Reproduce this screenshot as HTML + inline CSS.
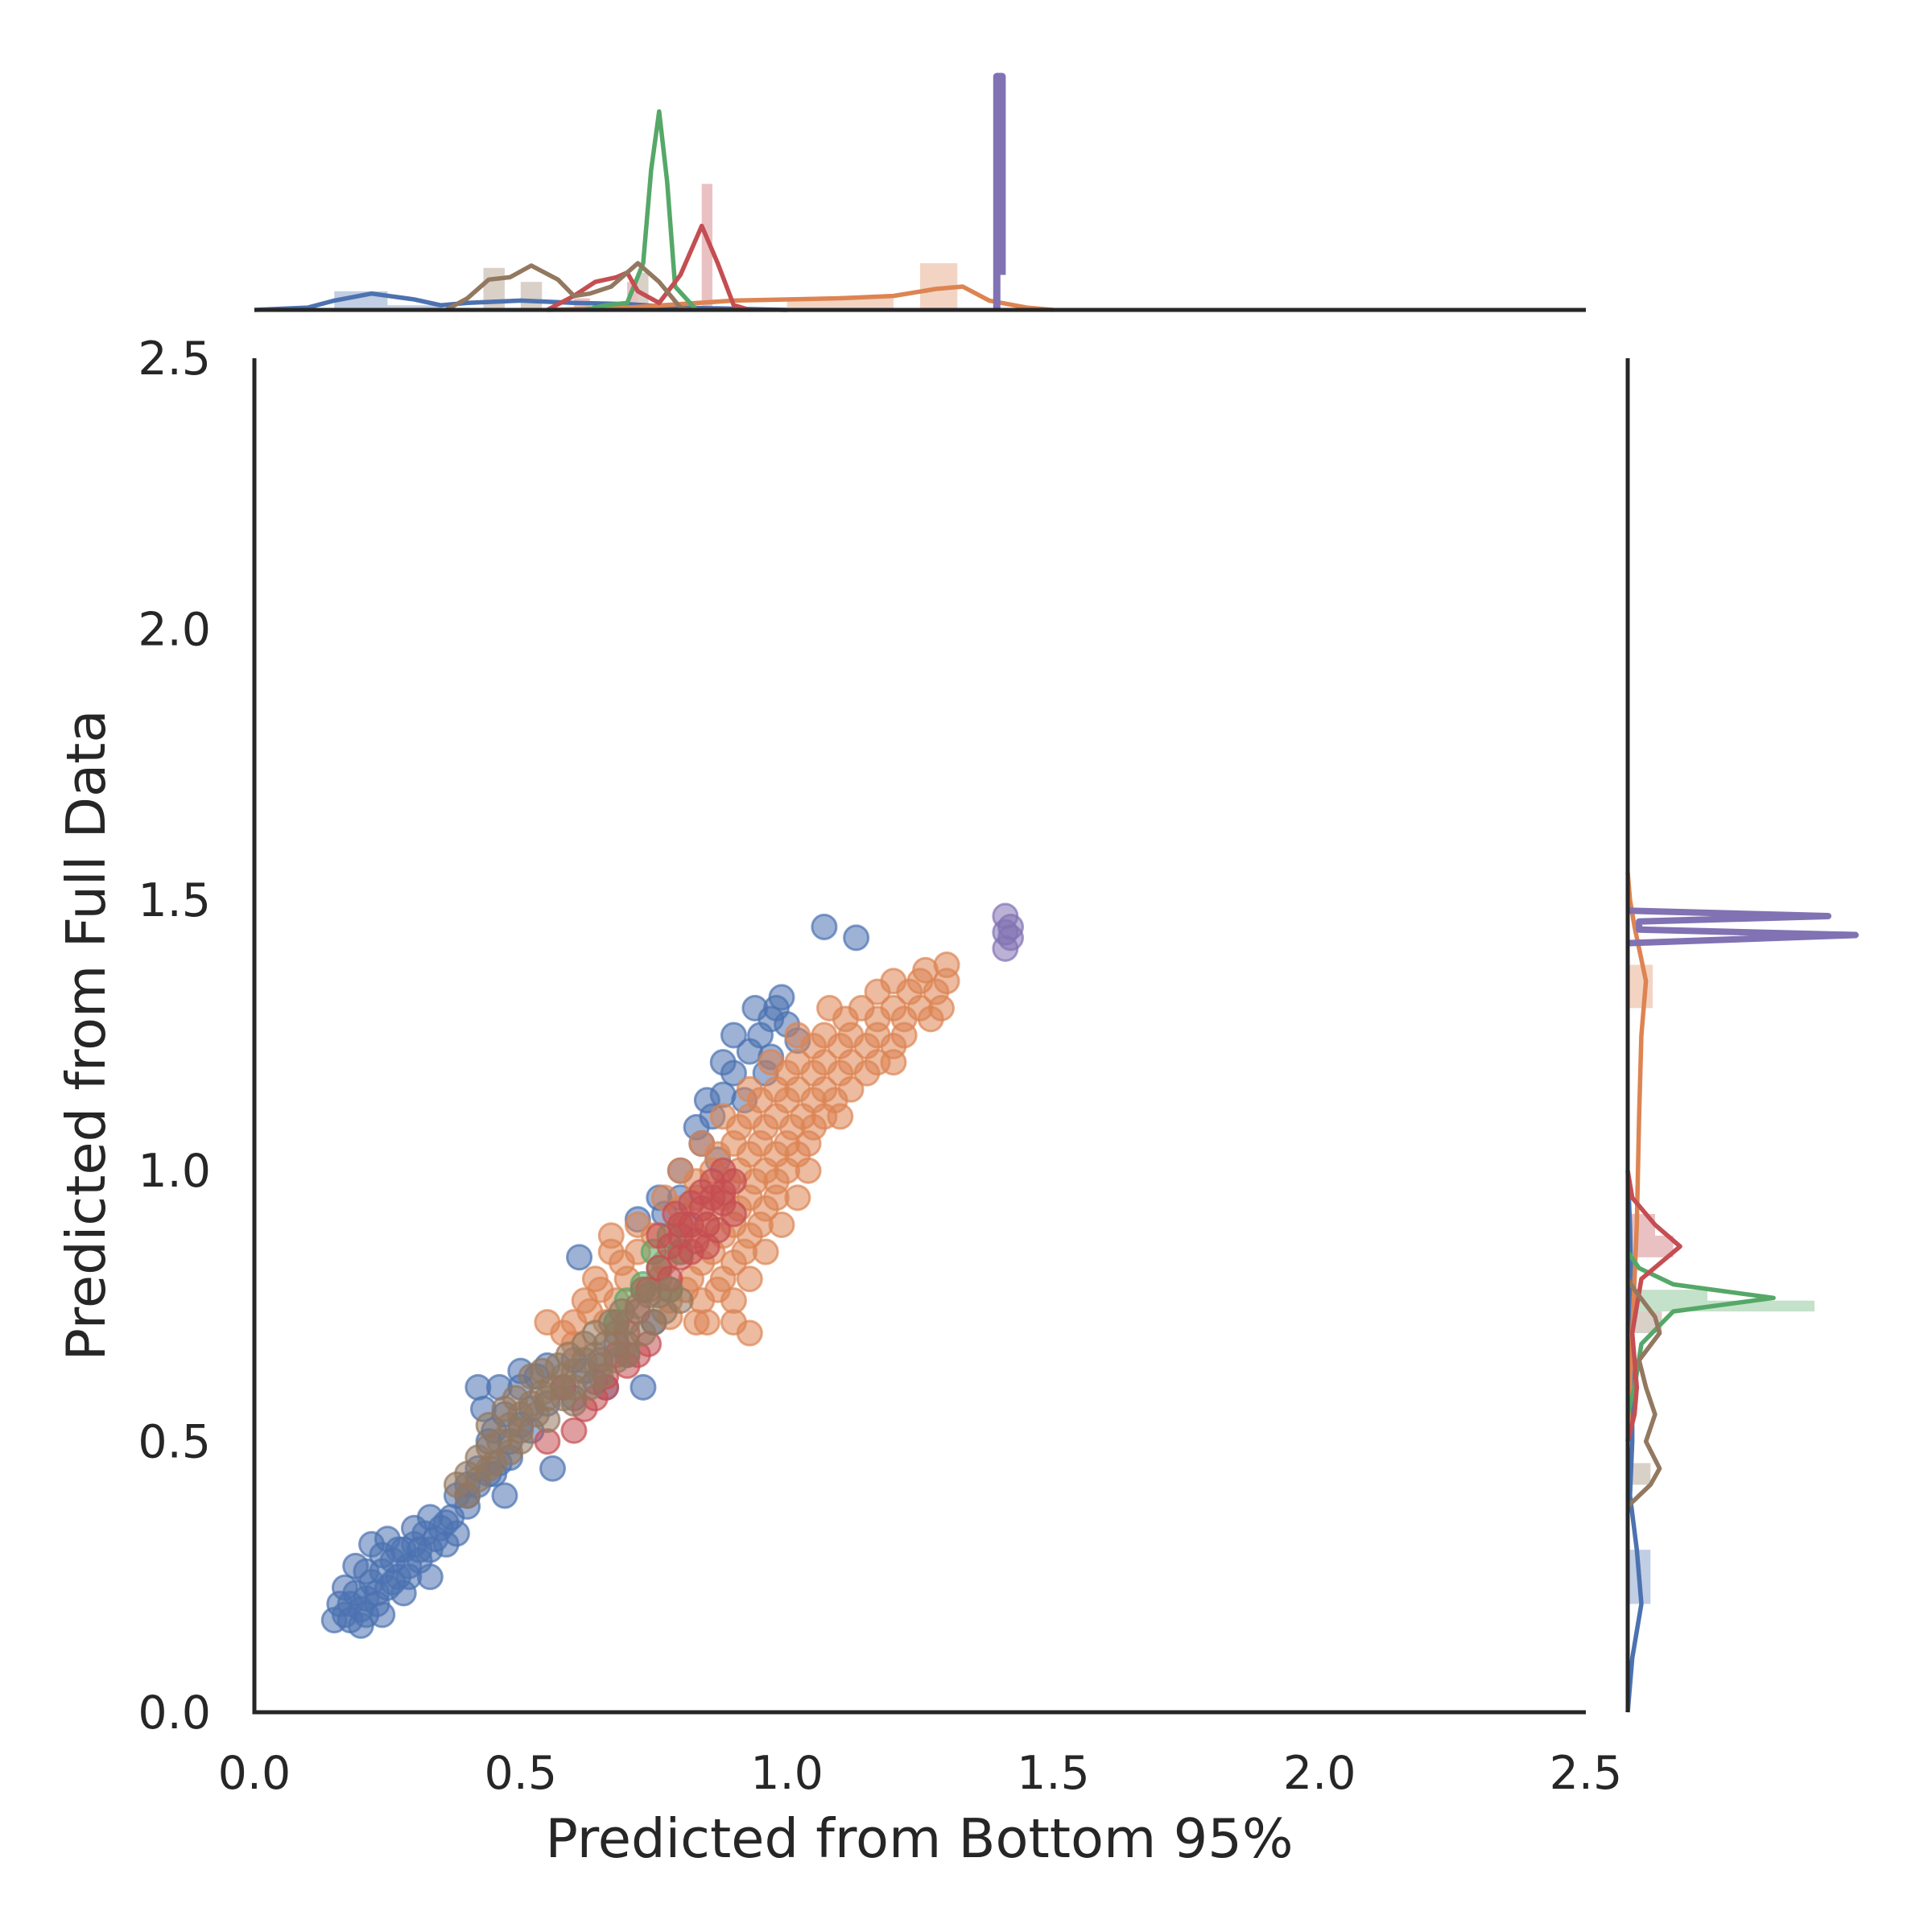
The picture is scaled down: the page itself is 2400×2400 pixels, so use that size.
<!DOCTYPE html>
<html><head><meta charset="utf-8"><style>
html,body{margin:0;padding:0;background:#fff;}
svg{display:block;font-family:"DejaVu Sans","Liberation Sans",sans-serif;}
</style></head><body>
<svg id="chart" width="2400" height="2400" viewBox="0 0 2400 2400" xmlns="http://www.w3.org/2000/svg">
<g id="hist"></g>
<g id="pts"></g>
<g id="kde"></g>
<g id="axes"></g>
</svg>
<script>
const colors = {blue:"#4c72b0",orange:"#dd8452",green:"#55a868",red:"#c44e52",purple:"#8172b3",brown:"#937860"};
const seriesOrder = ["blue","orange","green","red","purple","brown"];
const xTicks = [0.0,0.5,1.0,1.5,2.0,2.5];
const yTicks = [0.0,0.5,1.0,1.5,2.0,2.5];
const xTickLabels = ["0.0","0.5","1.0","1.5","2.0","2.5"];
const yTickLabels = ["0.0","0.5","1.0","1.5","2.0","2.5"];

const bluePts = [[0.15,0.17],[0.17,0.18],[0.18,0.2],[0.19,0.22],[0.2,0.19],[0.21,0.21],[0.22,0.24],[0.23,0.2],[0.24,0.26],[0.25,0.23],[0.26,0.28],[0.27,0.25],[0.28,0.3],[0.29,0.27],[0.3,0.31],[0.31,0.28],[0.32,0.33],[0.33,0.3],[0.35,0.34],[0.36,0.31],[0.37,0.36],[0.38,0.33],[0.19,0.27],[0.22,0.31],[0.25,0.32],[0.17,0.23],[0.2,0.16],[0.24,0.18],[0.28,0.22],[0.33,0.25],
[0.16,0.2],[0.18,0.17],[0.21,0.18],[0.23,0.22],[0.26,0.24],[0.29,0.25],[0.31,0.3],[0.34,0.32],[0.27,0.3],[0.24,0.29],[0.21,0.26],[0.3,0.34],[0.33,0.36],[0.36,0.35],[0.4,0.4],[0.42,0.42],[0.44,0.44],[0.46,0.46],[0.48,0.5],[0.5,0.53],[0.52,0.56],[0.45,0.52],[0.43,0.56],[0.42,0.6],[0.46,0.6],[0.5,0.63],[0.55,0.64],[0.6,0.65],[0.64,0.61],[0.66,0.6],
[0.38,0.4],[0.4,0.42],[0.42,0.45],[0.44,0.5],[0.45,0.44],[0.47,0.55],[0.48,0.47],[0.5,0.6],[0.52,0.52],[0.53,0.62],[0.55,0.57],[0.56,0.45],[0.58,0.6],[0.6,0.58],[0.62,0.63],[0.65,0.65],[0.68,0.68],[0.7,0.66],[0.73,0.6],[0.75,0.72],[0.4,0.38],[0.47,0.4],
[0.61,0.84],[0.72,0.91],[0.76,0.95],[0.8,1.0],[0.84,1.05],[0.86,1.1],[0.88,1.14],[0.9,1.18],[0.93,1.22],[0.95,1.25],[0.97,1.28],[0.99,1.32],[1.0,1.27],[1.02,1.24],[0.92,1.13],[0.87,1.02],[1.07,1.45],[1.13,1.43],[0.97,1.21],[0.81,0.9],[0.68,0.72],
[0.88,1.2],[0.9,1.25],[0.94,1.3],[0.98,1.3],[0.96,1.18],[0.85,1.13],[0.83,1.08],[0.8,0.95],[0.77,0.92]];
const orangePts = [[0.6,0.72],[0.66,0.72],[0.85,0.72],[0.9,0.72],
[0.62,0.76],[0.68,0.76],[0.78,0.76],[0.84,0.76],[0.9,0.76],
[0.64,0.8],[0.7,0.8],[0.76,0.8],[0.82,0.8],[0.88,0.8],[0.93,0.8],
[0.67,0.85],[0.72,0.85],[0.8,0.85],[0.86,0.85],[0.92,0.85],[0.96,0.85],
[0.72,0.9],[0.8,0.9],[0.85,0.9],[0.9,0.9],[0.95,0.9],[0.99,0.9],
[0.77,0.95],[0.83,0.95],[0.88,0.95],[0.93,0.95],[0.98,0.95],[1.02,0.95],
[0.8,1.0],[0.86,1.0],[0.91,1.0],[0.96,1.0],[1.0,1.0],[1.04,1.0],
[0.84,1.05],[0.9,1.05],[0.95,1.05],[1.0,1.05],[1.04,1.05],
[0.88,1.1],[0.93,1.1],[0.98,1.1],[1.03,1.1],[1.07,1.1],[1.1,1.1],
[0.93,1.15],[0.98,1.15],[1.02,1.15],[1.07,1.15],[1.12,1.15],
[0.97,1.2],[1.02,1.2],[1.07,1.2],[1.12,1.2],[1.17,1.2],[1.2,1.2],
[1.02,1.25],[1.07,1.25],[1.12,1.25],[1.17,1.25],[1.22,1.25],
[1.08,1.3],[1.14,1.3],[1.2,1.3],[1.25,1.3],[1.29,1.3],
[1.2,1.35],[1.25,1.35],[1.3,1.35],[1.3,1.38],[1.26,1.37],
[0.65,0.78],[0.73,0.78],[0.81,0.78],[0.87,0.78],
[0.69,0.83],[0.77,0.83],[0.84,0.83],[0.9,0.83],
[0.75,0.88],[0.83,0.88],[0.88,0.88],[0.93,0.88],
[0.8,0.93],[0.86,0.93],[0.91,0.93],[0.96,0.93],
[0.83,0.98],[0.89,0.98],[0.94,0.98],[0.98,0.98],
[0.87,1.03],[0.93,1.03],[0.98,1.03],[1.02,1.03],
[0.91,1.08],[0.96,1.08],[1.01,1.08],[1.05,1.08],
[0.95,1.13],[1.0,1.13],[1.05,1.13],[1.09,1.13],
[1.0,1.18],[1.05,1.18],[1.1,1.18],[1.15,1.18],
[1.05,1.23],[1.1,1.23],[1.15,1.23],[1.2,1.23],
[1.11,1.28],[1.17,1.28],[1.22,1.28],[1.27,1.28],
[1.17,1.33],[1.23,1.33],[1.28,1.33],
[0.93,0.7],[0.83,0.72],[0.55,0.72],[0.6,0.68],[0.67,0.88],[0.78,0.73],[0.63,0.74],[0.58,0.7]];
const greenPts = [[0.7,0.76],[0.73,0.79],[0.76,0.82],[0.78,0.78],[0.68,0.72],[0.75,0.85],[0.8,0.85],[0.78,0.88]];
const redPts = [[0.62,0.56],[0.64,0.58],[0.66,0.62],[0.68,0.66],[0.7,0.7],[0.72,0.74],[0.74,0.78],[0.76,0.82],[0.78,0.86],[0.8,0.88],[0.82,0.9],[0.84,0.93],[0.86,0.95],[0.88,0.96],[0.8,0.84],[0.83,0.87],[0.78,0.8],[0.85,0.9],[0.9,0.98],[0.76,0.88],[0.6,0.52],[0.55,0.5],[0.58,0.6],[0.87,0.89],
[0.8,0.9],[0.82,0.94],[0.84,0.96],[0.86,0.98],[0.88,0.94],[0.9,0.92],[0.82,0.85],[0.85,0.86],[0.79,0.92],[0.88,1.0],[0.66,0.6],[0.7,0.64],[0.74,0.68],[0.72,0.66]];
const purplePts = [[1.41,1.44],[1.41,1.47],[1.42,1.45],[1.41,1.41],[1.42,1.43]];
const brownPts = [[0.38,0.42],[0.4,0.44],[0.42,0.47],[0.44,0.49],[0.46,0.5],[0.48,0.53],[0.5,0.55],[0.52,0.57],[0.54,0.59],[0.56,0.6],[0.58,0.62],[0.6,0.63],[0.62,0.65],[0.64,0.66],[0.66,0.68],[0.68,0.7],[0.7,0.72],[0.72,0.75],[0.74,0.77],[0.76,0.77],[0.45,0.46],[0.5,0.5],[0.55,0.54],[0.6,0.57],[0.65,0.62],[0.7,0.66],[0.52,0.62],[0.57,0.64],[0.47,0.56],[0.42,0.43],[0.62,0.68],[0.67,0.72],
[0.4,0.4],[0.44,0.45],[0.48,0.48],[0.5,0.52],[0.53,0.55],[0.55,0.58],[0.58,0.58],[0.6,0.6],[0.63,0.6],[0.65,0.64],[0.68,0.65],[0.7,0.68],[0.73,0.7],[0.75,0.72],[0.77,0.74],[0.78,0.78],[0.8,0.76],[0.44,0.53],[0.49,0.58],[0.54,0.63],[0.59,0.66],[0.64,0.7],[0.69,0.74],[0.73,0.78]];

const blueTopKde = [[0,0],[0.1,0.01],[0.15,0.04],[0.22,0.07],[0.3,0.045],[0.35,0.02],[0.4,0.03],[0.5,0.04],[0.6,0.03],[0.7,0.025],[0.8,0.01],[0.9,0.005],[1.0,0]];
const orangeTopKde = [[0.55,0],[0.7,0.01],[0.9,0.04],[1.0,0.045],[1.1,0.05],[1.2,0.06],[1.28,0.09],[1.33,0.1],[1.38,0.04],[1.45,0.01],[1.5,0]];
const greenTopKde = [[0.62,0],[0.66,0.02],[0.7,0.03],[0.73,0.2],[0.745,0.6],[0.76,0.85],[0.775,0.55],[0.79,0.1],[0.83,0]];
const redTopKde = [[0.55,0],[0.6,0.06],[0.64,0.12],[0.68,0.14],[0.7,0.16],[0.72,0.08],[0.76,0.03],[0.8,0.15],[0.84,0.36],[0.87,0.2],[0.9,0.02],[0.93,0]];
const purpleTopKde = [[1.394,0],[1.394,1.0],[1.404,1.0],[1.404,0.15]];
const brownTopKde = [[0.36,0],[0.4,0.05],[0.44,0.13],[0.48,0.14],[0.52,0.19],[0.57,0.13],[0.6,0.06],[0.63,0.07],[0.67,0.1],[0.72,0.2],[0.76,0.12],[0.8,0.01],[0.82,0]];

const blueRightKde = [[0,0],[0.1,0.02],[0.2,0.06],[0.3,0.04],[0.4,0.01],[0.5,0.02],[0.7,0.02],[0.9,0.01],[1.0,0]];
const orangeRightKde = [[0.5,0],[0.7,0.02],[0.9,0.04],[1.1,0.05],[1.25,0.06],[1.35,0.08],[1.45,0.03],[1.5,0.01],[1.55,0]];
const greenRightKde = [[0.55,0],[0.6,0.03],[0.68,0.06],[0.74,0.2],[0.765,0.64],[0.79,0.2],[0.82,0.05],[0.85,0]];
const redRightKde = [[0.5,0],[0.55,0.03],[0.6,0.04],[0.7,0.02],[0.8,0.06],[0.86,0.23],[0.9,0.12],[0.95,0.02],[1.0,0]];
const purpleRightKde = [[1.42,0],[1.435,1.0],[1.445,0.05],[1.46,0.05],[1.47,0.88],[1.48,0]];
const brownRightKde = [[0.38,0],[0.42,0.1],[0.45,0.14],[0.5,0.08],[0.55,0.12],[0.6,0.08],[0.65,0.05],[0.7,0.14],[0.73,0.12],[0.78,0.03],[0.8,0]];

const topHistBlue = [[0.15,0.25,0.08],[0.25,0.35,0.02]];
const topHistOrange = [[1.0,1.1,0.04],[1.1,1.2,0.06],[1.25,1.32,0.2]];
const topHistRed = [[0.6,0.63,0.05],[0.7,0.72,0.12],[0.84,0.86,0.54]];
const topHistBrown = [[0.43,0.47,0.18],[0.5,0.54,0.12],[0.72,0.74,0.16]];
const rightHistBlue = [[0.2,0.3,0.1]];
const rightHistOrange = [[1.3,1.38,0.11]];
const rightHistRed = [[0.84,0.88,0.2],[0.88,0.92,0.12]];
const rightHistGreen = [[0.74,0.76,0.82],[0.76,0.78,0.35]];
const rightHistBrown = [[0.42,0.46,0.1],[0.7,0.74,0.15]];

const NS="http://www.w3.org/2000/svg";
const X0=316,X1=1970,Y0=2127,Y1=445;
const sx=v=>X0+v*(X1-X0)/2.5;
const sy=v=>Y0-v*(Y0-Y1)/2.5;
const TB=385,TT=95; const ty=d=>TB-d*(TB-TT);
const RL=2022,RR=2305; const rx=d=>RL+d*(RR-RL);
function el(tag,attrs,parent){const e=document.createElementNS(NS,tag);for(const k in attrs)e.setAttribute(k,attrs[k]);parent.appendChild(e);return e;}

const pts={blue:bluePts,orange:orangePts,green:greenPts,red:redPts,purple:purplePts,brown:brownPts};
const topK={blue:blueTopKde,orange:orangeTopKde,green:greenTopKde,red:redTopKde,purple:purpleTopKde,brown:brownTopKde};
const rightK={blue:blueRightKde,orange:orangeRightKde,green:greenRightKde,red:redRightKde,purple:purpleRightKde,brown:brownRightKde};
const topH={blue:topHistBlue,orange:topHistOrange,red:topHistRed,brown:topHistBrown};
const rightH={blue:rightHistBlue,orange:rightHistOrange,red:rightHistRed,green:rightHistGreen,brown:rightHistBrown};

const gh=document.getElementById('hist'),gp=document.getElementById('pts'),gk=document.getElementById('kde'),ga=document.getElementById('axes');
for(const s in topH){for(const b of topH[s]){const r=el('rect',{x:sx(b[0]),y:ty(b[2]),width:sx(b[1])-sx(b[0]),height:TB-ty(b[2]),fill:colors[s],'fill-opacity':0.35},gh);

}}
for(const s in rightH){for(const b of rightH[s]){const r=el('rect',{x:RL,y:sy(b[1]),width:rx(b[2])-RL,height:sy(b[0])-sy(b[1]),fill:colors[s],'fill-opacity':0.35},gh);

}}

for(const s of seriesOrder){for(const p of pts[s]){const c=el('circle',{cx:sx(p[0]),cy:sy(p[1]),r:15,fill:colors[s],'fill-opacity':0.55,stroke:colors[s],'stroke-width':3,'stroke-opacity':0.7},gp);

}}

for(const s of seriesOrder){
 const pl=el('polyline',{points:topK[s].map(d=>sx(d[0])+','+ty(d[1])).join(' '),fill:'none',stroke:colors[s],'stroke-width':s==='purple'?9:5.5,'stroke-linejoin':'round'},gk);
 
 
 const pr=el('polyline',{points:rightK[s].map(d=>rx(d[1])+','+sy(d[0])).join(' '),fill:'none',stroke:colors[s],'stroke-width':s==='purple'?8:5.5,'stroke-linejoin':'round'},gk);
 
 
}

const ax=el('path',{d:`M${X0},${Y1} L${X0},${Y0} L${X1},${Y0}`,fill:'none',stroke:'#262626','stroke-width':5},ga);


const tl=el('line',{x1:X0,x2:X1,y1:TB,y2:TB,stroke:'#262626','stroke-width':5},ga);


const rl=el('line',{x1:RL,x2:RL,y1:Y1,y2:Y0,stroke:'#262626','stroke-width':5},ga);


xTicks.forEach((v,i)=>{const t=el('text',{x:sx(v),y:2222,'text-anchor':'middle','font-size':57,fill:'#262626'},ga);t.textContent=xTickLabels[i];

});
yTicks.forEach((v,i)=>{const t=el('text',{x:262,y:sy(v)+20,'text-anchor':'end','font-size':57,fill:'#262626'},ga);t.textContent=yTickLabels[i];

});
const xl=el('text',{x:1142,y:2307,'text-anchor':'middle','font-size':67,fill:'#262626'},ga);xl.textContent='Predicted from Bottom 95%';


const yl=el('text',{x:0,y:0,'text-anchor':'middle','font-size':67,fill:'#262626',transform:'translate(130,1286) rotate(-90)'},ga);yl.textContent='Predicted from Full Data';


</script>
</body></html>
